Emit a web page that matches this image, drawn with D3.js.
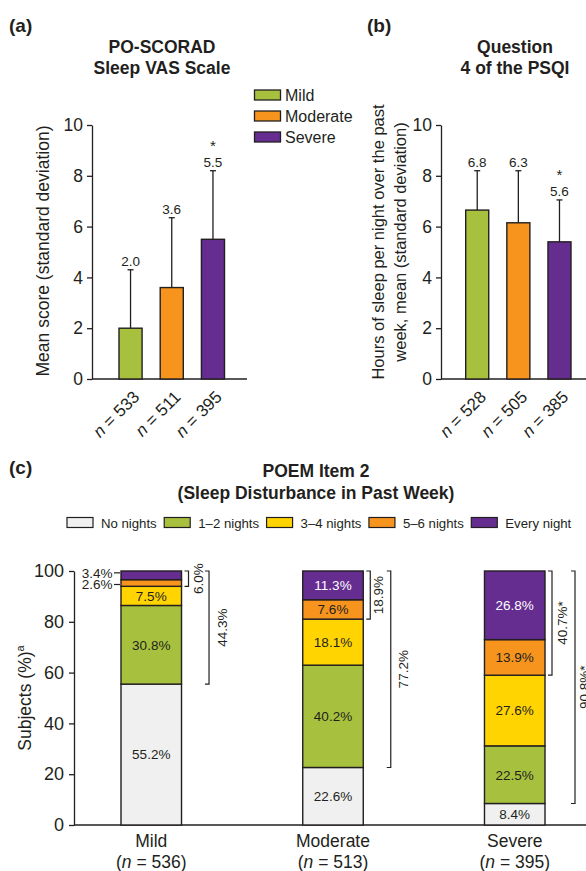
<!DOCTYPE html>
<html><head><meta charset="utf-8">
<script src="https://cdn.jsdelivr.net/npm/d3@7"></script>
<style>
body{margin:0;background:#fff;}
svg{font-family:"Liberation Sans",Arial,Helvetica,sans-serif;}
</style></head>
<body>
<svg id="c" width="586" height="871"></svg>
<script>
// ---------- DATA ----------
const severity = ["Mild", "Moderate", "Severe"];
const severityColors = ["#a7c13e", "#f7941e", "#662d91"];

// (a) PO-SCORAD Sleep VAS
const vasMean = [2.0, 3.6, 5.5];
const vasSD = [2.3, 2.75, 2.7];
const vasLabels = ["2.0", "3.6", "5.5"];
const vasN = [533, 511, 395];
const vasSig = [false, false, true];

// (b) PSQI Question 4
const psqiMean = [6.65, 6.15, 5.4];
const psqiSD = [1.55, 2.05, 1.65];
const psqiLabels = ["6.8", "6.3", "5.6"];
const psqiN = [528, 505, 385];
const psqiSig = [false, false, true];

const barTicks = [0, 2, 4, 6, 8, 10];

// (c) POEM Item 2
const poemCategories = ["No nights", "1–2 nights", "3–4 nights", "5–6 nights", "Every night"];
const poemColors = ["#eff0ef", "#a7c13e", "#ffd400", "#f7941e", "#662d91"];
const poemN = [536, 513, 395];
const poemNoNights = [55.2, 22.6, 8.4];
const poem12 = [30.8, 40.2, 22.5];
const poem34 = [7.5, 18.1, 27.6];
const poem56 = [2.6, 7.6, 13.9];
const poemEvery = [3.4, 11.3, 26.8];
const bracketSmall = ["6.0%", "18.9%", "40.7%*"];
const bracketLarge = ["44.3%", "77.2%", "90.8%*"];
const poemTicks = [0, 20, 40, 60, 80, 100];

// ---------- DRAW ----------
const svg = d3.select("#c");
const ink = "#231f20";

function barPanel(opt) {
  const g = svg.append("g");
  const y = d3.scaleLinear().domain([0, 10]).range([379, 125]);
  const x = d3.scaleBand().domain(severity).range(opt.xr).paddingInner(0.44).paddingOuter(0);
  const ax = g.append("g").attr("transform", `translate(${opt.ax},0)`)
    .call(d3.axisLeft(y).tickValues(barTicks).tickSize(5).tickSizeOuter(0).tickPadding(4));
  ax.selectAll("path,line").attr("stroke", ink).attr("stroke-width", 1.3);
  ax.selectAll("text").attr("font-size", 17.5).attr("fill", ink).attr("font-family", "Liberation Sans, Arial");
  g.append("line").attr("x1", opt.ax).attr("x2", opt.xEnd).attr("y1", y(0)).attr("y2", y(0))
    .attr("stroke", ink).attr("stroke-width", 1.3);
  severity.forEach((s, i) => {
    const cx = x(s) + x.bandwidth() / 2;
    const top = y(opt.mean[i] + opt.sd[i]);
    g.append("line").attr("x1", cx).attr("x2", cx).attr("y1", y(opt.mean[i])).attr("y2", top)
      .attr("stroke", ink).attr("stroke-width", 1.3);
    g.append("line").attr("x1", cx - 3).attr("x2", cx + 3).attr("y1", top).attr("y2", top)
      .attr("stroke", ink).attr("stroke-width", 1.3);
    g.append("rect").attr("x", x(s)).attr("y", y(opt.mean[i])).attr("width", x.bandwidth())
      .attr("height", y(0) - y(opt.mean[i])).attr("fill", severityColors[i])
      .attr("stroke", ink).attr("stroke-width", 1.4);
    g.append("text").attr("x", cx).attr("y", top - 4).attr("text-anchor", "middle")
      .attr("font-size", 13.5).attr("fill", ink).text(opt.labels[i]);
    if (opt.sig[i]) {
      g.append("text").attr("x", cx).attr("y", top - 20).attr("text-anchor", "middle")
        .attr("font-size", 15).attr("fill", ink).text("*");
    }
    const t = g.append("text").attr("text-anchor", "end").attr("font-size", 17).attr("fill", ink)
      .attr("transform", `translate(${cx + 10},${y(0) + 19}) rotate(-45)`);
    t.append("tspan").attr("font-style", "italic").text("n");
    t.append("tspan").text(" = " + opt.n[i]);
  });
  // title
  opt.title.forEach((line, k) => {
    g.append("text").attr("x", opt.titleX).attr("y", 53 + k * 21).attr("text-anchor", "middle")
      .attr("font-size", 17.5).attr("font-weight", "bold").attr("fill", ink).text(line);
  });
  g.append("text").attr("x", opt.tagX).attr("y", 32).attr("font-size", 19).attr("font-weight", "bold")
    .attr("fill", ink).text(opt.tag);
  // y title
  opt.yTitle.forEach((line, k) => {
    g.append("text").attr("transform", `translate(${opt.yTitleX[k]},${opt.yTitleY}) rotate(-90)`)
      .attr("text-anchor", "middle").attr("font-size", opt.yTitleSize).attr("fill", ink).text(line);
  });
  return {x, y};
}

barPanel({
  ax: 92, xEnd: 247, xr: [119, 224.5], mean: vasMean, sd: vasSD, labels: vasLabels, n: vasN, sig: vasSig,
  title: ["PO-SCORAD", "Sleep VAS Scale"], titleX: 162, tag: "(a)", tagX: 9,
  yTitle: ["Mean score (standard deviation)"], yTitleX: [49], yTitleY: 251, yTitleSize: 17.5
});
barPanel({
  ax: 441, xEnd: 586, xr: [465.7, 571], mean: psqiMean, sd: psqiSD, labels: psqiLabels, n: psqiN, sig: psqiSig,
  title: ["Question", "4 of the PSQI"], titleX: 515, tag: "(b)", tagX: 367,
  yTitle: ["Hours of sleep per night over the past", "week, mean (standard deviation)"],
  yTitleX: [384, 406], yTitleY: 242, yTitleSize: 16.5
});

// legend (a)
severity.forEach((s, i) => {
  svg.append("rect").attr("x", 254.5).attr("y", 90 + i * 21).attr("width", 26).attr("height", 10)
    .attr("fill", severityColors[i]).attr("stroke", ink).attr("stroke-width", 1.3);
  svg.append("text").attr("x", 285).attr("y", 100.5 + i * 21).attr("font-size", 16).attr("fill", ink).text(s);
});

// ---------- (c) ----------
const gc = svg.append("g");
const yc = d3.scaleLinear().domain([0, 100]).range([825, 571]);
const xc = d3.scaleBand().domain(severity).range([121, 545]).paddingInner(0.667).paddingOuter(0);
const poemRows = severity.map((s, i) => ({
  group: s,
  "No nights": poemNoNights[i], "1–2 nights": poem12[i], "3–4 nights": poem34[i],
  "5–6 nights": poem56[i], "Every night": poemEvery[i]
}));
const stacked = d3.stack().keys(poemCategories).offset(d3.stackOffsetExpand)(poemRows);

const axc = gc.append("g").attr("transform", "translate(74,0)")
  .call(d3.axisLeft(yc).tickValues(poemTicks).tickSize(5).tickSizeOuter(0).tickPadding(5));
axc.selectAll("path,line").attr("stroke", ink).attr("stroke-width", 1.3);
axc.selectAll("text").attr("font-size", 18).attr("fill", ink).attr("font-family", "Liberation Sans, Arial");
gc.append("line").attr("x1", 74).attr("x2", 586).attr("y1", yc(0)).attr("y2", yc(0))
  .attr("stroke", ink).attr("stroke-width", 1.3);

stacked.forEach((layer, k) => {
  layer.forEach((d, i) => {
    const g = severity[i];
    const y0 = yc(d[0] * 100), y1 = yc(d[1] * 100);
    gc.append("rect").attr("x", xc(g)).attr("y", y1).attr("width", xc.bandwidth()).attr("height", y0 - y1)
      .attr("fill", poemColors[k]).attr("stroke", ink).attr("stroke-width", 1.4);
    const val = d.data[poemCategories[k]];
    const cy = (y0 + y1) / 2;
    const txt = val.toFixed(1) + "%";
    if (y0 - y1 > 14) {
      gc.append("text").attr("x", xc(g) + xc.bandwidth() / 2).attr("y", cy).attr("dy", "0.36em")
        .attr("text-anchor", "middle").attr("font-size", 13.5)
        .attr("fill", k === 4 ? "#fff" : ink).text(txt);
    } else {
      // small segments: label outside with leader dash, spread apart
      const ly = cy + (k === 4 ? -2.5 : 1.5);
      gc.append("line").attr("x1", xc(g) - 7).attr("x2", xc(g) - 1).attr("y1", ly).attr("y2", ly)
        .attr("stroke", ink).attr("stroke-width", 1.2);
      gc.append("text").attr("x", xc(g) - 8.5).attr("y", ly).attr("dy", "0.36em")
        .attr("text-anchor", "end").attr("font-size", 13.5).attr("fill", ink).text(txt);
    }
  });
});

// brackets
function bracket(x, yTop, yBot, label, tx) {
  gc.append("path").attr("d", `M${x - 4},${yTop}H${x}V${yBot}H${x - 4}`)
    .attr("fill", "none").attr("stroke", ink).attr("stroke-width", 1.2);
  gc.append("text").attr("transform", `translate(${tx},${(yTop + yBot) / 2}) rotate(-90)`)
    .attr("dy", "0.36em").attr("text-anchor", "middle").attr("font-size", 13.5).attr("fill", ink).text(label);
}
const smallOff = [10, 8, 10];
const largeOff = [13, 12, 9];
severity.forEach((g, i) => {
  const right = xc(g) + xc.bandwidth();
  const top = yc(stacked[4][i][1] * 100);
  const sb = yc(stacked[2][i][1] * 100);
  const lb = yc(stacked[0][i][1] * 100);
  const sx = right + 7, lx = right + (i === 2 ? 30 : 27.5);
  bracket(sx, top, sb, bracketSmall[i], sx + smallOff[i]);
  bracket(lx, top, lb, bracketLarge[i], lx + largeOff[i]);
  gc.append("text").attr("x", xc(g) + xc.bandwidth() / 2).attr("y", 847).attr("text-anchor", "middle")
    .attr("font-size", 17.5).attr("fill", ink).text(g);
  const t = gc.append("text").attr("x", xc(g) + xc.bandwidth() / 2).attr("y", 867.5).attr("text-anchor", "middle")
    .attr("font-size", 17.5).attr("fill", ink);
  t.append("tspan").text("(");
  t.append("tspan").attr("font-style", "italic").text("n");
  t.append("tspan").text(" = " + poemN[i] + ")");
});

// y title (c)
const yt = gc.append("text").attr("transform", "translate(31,698) rotate(-90)").attr("text-anchor", "middle")
  .attr("font-size", 17.5).attr("fill", ink);
yt.append("tspan").text("Subjects (%)");
yt.append("tspan").attr("font-size", 11).attr("dy", "-0.6em").text("a");

// title (c)
gc.append("text").attr("x", 9).attr("y", 474).attr("font-size", 19).attr("font-weight", "bold").attr("fill", ink).text("(c)");
["POEM Item 2", "(Sleep Disturbance in Past Week)"].forEach((l, k) => {
  gc.append("text").attr("x", 316).attr("y", 477 + k * 22).attr("text-anchor", "middle")
    .attr("font-size", 17.5).attr("font-weight", "bold").attr("fill", ink).text(l);
});

// legend (c)
let lx = 67;
poemCategories.forEach((c, k) => {
  gc.append("rect").attr("x", lx).attr("y", 517.5).attr("width", 26).attr("height", 10)
    .attr("fill", poemColors[k]).attr("stroke", ink).attr("stroke-width", 1.2);
  const t = gc.append("text").attr("x", lx + 34).attr("y", 527.5).attr("font-size", 13.2).attr("fill", ink).text(c);
  lx = lx + 34 + t.node().getComputedTextLength() + 7.5;
});
</script>
</body></html>
